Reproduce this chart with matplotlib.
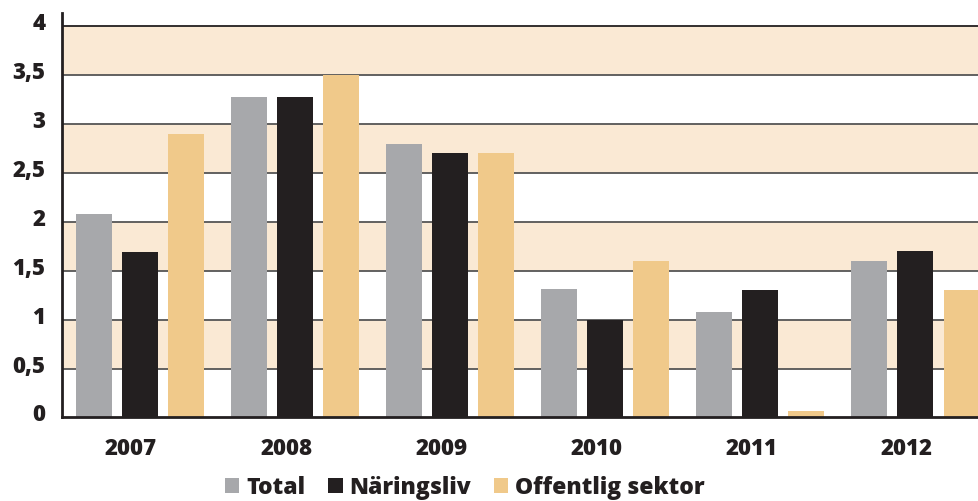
import numpy as np
import matplotlib
matplotlib.use("Agg")
import matplotlib.pyplot as plt
from matplotlib.transforms import ScaledTranslation

years = ["2007", "2008", "2009", "2010", "2011", "2012"]
total = [2.08, 3.27, 2.79, 1.31, 1.08, 1.6]
naringsliv = [1.69, 3.27, 2.7, 1.0, 1.3, 1.7]
offentlig = [2.89, 3.5, 2.7, 1.6, 0.07, 1.3]
series_names = ["Total", "Näringsliv", "Offentlig sektor"]
yticks = [0, 0.5, 1, 1.5, 2, 2.5, 3, 3.5, 4]
ytick_labels = ["0", "0,5", "1", "1,5", "2", "2,5", "3", "3,5", "4"]

c_total = "#a7a8ab"
c_nar = "#231f20"
c_off = "#f0c98a"
c_band = "#fae9d4"

plt.rcParams['font.family'] = ['Open Sans', 'DejaVu Sans']

fig = plt.figure(figsize=(9.79, 5.01), dpi=100)
ax = fig.add_axes([0.0633, 0.1667, 0.9367, 0.8073])

# bands and grid
for lo in [0.5, 1.5, 2.5, 3.5]:
    ax.axhspan(lo, lo + 0.5, color=c_band, zorder=0, lw=0)
for y in yticks[1:]:
    ax.axhline(y, color="#555555" if y < 4 else "#231f20", lw=1.3, zorder=1)

x = np.arange(len(years))
off = 0.297
w = 0.232
b1 = ax.bar(x - off, total, w, color=c_total, zorder=2, label=series_names[0])
b2 = ax.bar(x, naringsliv, w, color=c_nar, zorder=2, label=series_names[1])
b3 = ax.bar(x + off, offentlig, w, color=c_off, zorder=2, label=series_names[2])

ax.set_xlim(-0.506, 5.41)
ax.set_ylim(0, 4.13)

ax.set_xticks(x - 0.06)
ax.set_xticklabels(years, fontsize=16, fontweight="heavy", color="#231f20")
ax.set_yticks(yticks)
ax.set_yticklabels(ytick_labels, fontsize=16, fontweight="heavy", color="#231f20")
ax.tick_params(axis="x", length=0, pad=14)
ax.tick_params(axis="y", length=0, pad=12)
shift = ScaledTranslation(0, 5 / 100, fig.dpi_scale_trans)
for lab in ax.get_yticklabels():
    lab.set_transform(lab.get_transform() + shift)

for s in ["top", "right"]:
    ax.spines[s].set_visible(False)
ax.spines["left"].set_color("#231f20")
ax.spines["left"].set_linewidth(2)
ax.spines["bottom"].set_color("#231f20")
ax.spines["bottom"].set_linewidth(2)
ax.spines["bottom"].set_zorder(3)

fig.legend(handles=[b1, b2, b3], labels=series_names, loc="center",
           bbox_to_anchor=(0.475, 0.026), ncol=3, frameon=False,
           prop={"size": 16.5, "weight": "heavy"}, handlelength=0.62,
           handleheight=0.62, handletextpad=0.3, columnspacing=1.0,
           labelcolor="#231f20", borderpad=0.2)

fig.savefig("out.png", dpi=100)
